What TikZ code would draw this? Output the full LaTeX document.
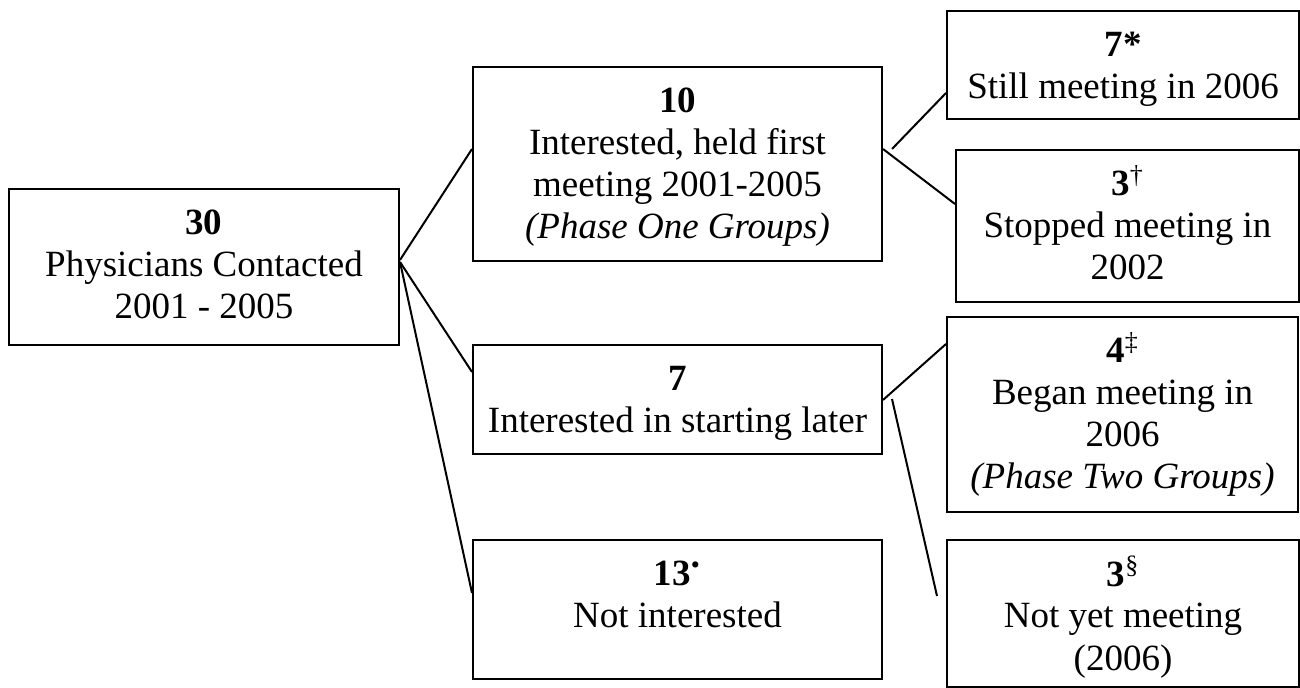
\documentclass[tikz,border=0pt]{standalone}
\usepackage{fontspec}
\setmainfont{Liberation Serif}
\usetikzlibrary{calc}
\newcommand{\boxtxt}[3]{\parbox[c][#2][t]{#1}{\centering\fontsize{18.5pt}{21pt}\selectfont\rule{0pt}{23pt}#3}}
\tikzset{
  box/.style={draw=black, line width=1pt, inner sep=0pt, anchor=north west},
  link/.style={draw=black, line width=1pt}
}
\begin{document}
\begin{tikzpicture}[x=0.5pt, y=-0.5pt]
\useasboundingbox (0,0) rectangle (1300,688);
\node[box] (A) at (8,188) {\boxtxt{195pt}{78pt}{\textbf{30}\\Physicians Contacted\\2001 - 2005}};
\node[box] (B) at (472,66) {\boxtxt{204.5pt}{97pt}{\textbf{10}\\Interested, held first\\meeting 2001-2005\\\textit{(Phase One Groups)}}};
\node[box] (C) at (472,344) {\boxtxt{204.5pt}{54.5pt}{\textbf{7}\\Interested in starting later}};
\node[box] (D) at (472,539) {\boxtxt{204.5pt}{69.5pt}{\textbf{13}\textsuperscript{•}\\Not interested}};
\node[box] (E) at (946,10) {\boxtxt{176pt}{54pt}{\textbf{7*}\\Still meeting in 2006}};
\node[box] (F) at (955,149) {\boxtxt{171.5pt}{76pt}{\textbf{3}\textsuperscript{†}\\Stopped meeting in\\2002}};
\node[box] (G) at (946,316) {\boxtxt{175.5pt}{97.5pt}{\textbf{4}\textsuperscript{‡}\\Began meeting in\\2006\\\textit{(Phase Two Groups)}}};
\node[box] (H) at (946,539) {\boxtxt{176pt}{73.5pt}{\textbf{3}\textsuperscript{§}\\Not yet meeting\\(2006)}};
% connectors
\draw[link] ($(A.north east)+(0,72)$) -- ($(B.north west)+(0,83)$);
\draw[link] ($(A.north east)+(0,74)$) -- ($(C.north west)+(0,28)$);
\draw[link] ($(A.north east)+(0,74)$) -- ($(D.north west)+(0,54)$);
\draw[link] ($(B.north east)+(9,83)$) -- ($(E.north west)+(0,83)$);
\draw[link] ($(B.north east)+(0,83)$) -- ($(F.north west)+(0,55)$);
\draw[link] ($(C.north east)+(0,56)$) -- ($(G.north west)+(0,28)$);
\draw[link] ($(C.north east)+(9,55)$) -- ($(H.north west)+(-9,57)$);
\end{tikzpicture}
\end{document}
